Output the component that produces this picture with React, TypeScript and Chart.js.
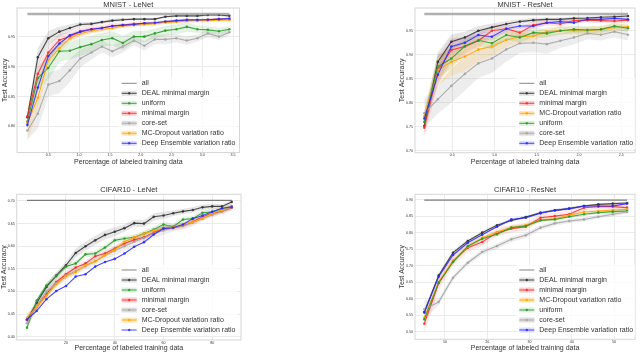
import React, { useEffect, useRef } from "react";
import { Chart, registerables } from "chart.js";

Chart.register(...registerables);

const FONT = '"Liberation Sans", Arial, Helvetica, sans-serif';
const TEXT = "#333333";

// ---------------- MNIST - LeNet ----------------
const mnistLenetX = [0.16, 0.33, 0.5, 0.68, 0.85, 1.02, 1.2, 1.37, 1.54, 1.71, 1.89, 2.06, 2.23, 2.4, 2.58, 2.75, 2.92, 3.09, 3.27, 3.44];
const mnistLenetAll = 0.9888;
const mnistLenetDeal = [0.815, 0.916, 0.948, 0.959, 0.965, 0.971, 0.972, 0.975, 0.9775, 0.979, 0.98, 0.98, 0.98, 0.984, 0.9855, 0.9855, 0.9855, 0.987, 0.987, 0.9855];
const mnistLenetUniform = [0.808, 0.881, 0.898, 0.926, 0.927, 0.933, 0.938, 0.945, 0.948, 0.94, 0.9506, 0.9506, 0.956, 0.9607, 0.963, 0.967, 0.963, 0.962, 0.9596, 0.963];
const mnistLenetMinMargin = [0.817, 0.888, 0.924, 0.945, 0.951, 0.959, 0.963, 0.965, 0.9685, 0.97, 0.972, 0.973, 0.9736, 0.975, 0.977, 0.978, 0.978, 0.979, 0.98, 0.98];
const mnistLenetCoreset = [0.793, 0.821, 0.87, 0.876, 0.894, 0.914, 0.924, 0.934, 0.926, 0.934, 0.944, 0.9354, 0.946, 0.946, 0.948, 0.944, 0.948, 0.956, 0.9506, 0.958];
const mnistLenetMC = [0.805, 0.848, 0.911, 0.931, 0.948, 0.956, 0.96, 0.963, 0.9646, 0.9685, 0.97, 0.971, 0.9725, 0.9747, 0.9753, 0.977, 0.9775, 0.9775, 0.978, 0.9787];
const mnistLenetDE = [0.802, 0.865, 0.918, 0.939, 0.953, 0.959, 0.963, 0.965, 0.9685, 0.97, 0.971, 0.973, 0.974, 0.976, 0.9775, 0.9787, 0.9787, 0.979, 0.98, 0.981];
const mnistLenetDealSd = [0.006, 0.015, 0.012, 0.008, 0.006, 0.004, 0.003, 0.003, 0.003, 0.003, 0.002, 0.002, 0.002, 0.002, 0.002, 0.002, 0.002, 0.002, 0.002, 0.002];
const mnistLenetUniformSd = [0.01, 0.02, 0.02, 0.018, 0.015, 0.015, 0.014, 0.012, 0.012, 0.012, 0.01, 0.01, 0.008, 0.008, 0.008, 0.008, 0.006, 0.006, 0.006, 0.005];
const mnistLenetMinMarginSd = [0.01, 0.015, 0.012, 0.01, 0.008, 0.007, 0.006, 0.005, 0.005, 0.004, 0.004, 0.003, 0.003, 0.003, 0.003, 0.003, 0.002, 0.002, 0.002, 0.002];
const mnistLenetCoresetSd = [0.015, 0.025, 0.02, 0.02, 0.02, 0.015, 0.012, 0.01, 0.01, 0.01, 0.008, 0.008, 0.008, 0.008, 0.007, 0.007, 0.006, 0.006, 0.006, 0.005];
const mnistLenetMCSd = [0.03, 0.025, 0.012, 0.008, 0.006, 0.005, 0.004, 0.004, 0.003, 0.003, 0.003, 0.003, 0.003, 0.003, 0.003, 0.003, 0.003, 0.003, 0.003, 0.003];
const mnistLenetDESd = [0.006, 0.01, 0.006, 0.004, 0.003, 0.003, 0.003, 0.002, 0.002, 0.002, 0.002, 0.002, 0.002, 0.002, 0.002, 0.002, 0.002, 0.002, 0.002, 0.002];
const mnistLenetXTicks = [0.5, 1.0, 1.5, 2.0, 2.5, 3.0, 3.5];
const mnistLenetYTicks = [0.8, 0.85, 0.9, 0.95];

// ---------------- MNIST - ResNet ----------------
const mnistResnetX = [0.17, 0.33, 0.49, 0.65, 0.81, 0.97, 1.14, 1.3, 1.46, 1.62, 1.78, 1.94, 2.1, 2.26, 2.42, 2.58];
const mnistResnetAll = 0.9847;
const mnistResnetDeal = [0.752, 0.885, 0.927, 0.936, 0.95, 0.957, 0.964, 0.969, 0.972, 0.9736, 0.9736, 0.9757, 0.9764, 0.978, 0.979, 0.9805];
const mnistResnetMinMargin = [0.748, 0.867, 0.91, 0.917, 0.929, 0.95, 0.954, 0.946, 0.962, 0.9667, 0.964, 0.971, 0.972, 0.971, 0.97, 0.972];
const mnistResnetMC = [0.772, 0.868, 0.885, 0.896, 0.911, 0.917, 0.9306, 0.9375, 0.939, 0.948, 0.95, 0.95, 0.95, 0.9528, 0.957, 0.9583];
const mnistResnetUniform = [0.76, 0.875, 0.892, 0.918, 0.93, 0.924, 0.941, 0.936, 0.946, 0.9444, 0.95, 0.9528, 0.9514, 0.9528, 0.9597, 0.955];
const mnistResnetCoreset = [0.778, 0.807, 0.835, 0.86, 0.882, 0.892, 0.911, 0.9236, 0.925, 0.922, 0.929, 0.936, 0.9444, 0.9417, 0.948, 0.9417];
const mnistResnetDE = [0.767, 0.858, 0.917, 0.925, 0.941, 0.9375, 0.954, 0.9597, 0.9597, 0.9667, 0.969, 0.9667, 0.974, 0.9736, 0.9757, 0.9736];
const mnistResnetDealSd = [0.02, 0.02, 0.015, 0.012, 0.01, 0.008, 0.006, 0.005, 0.005, 0.004, 0.004, 0.004, 0.003, 0.003, 0.003, 0.003];
const mnistResnetMinMarginSd = [0.02, 0.03, 0.025, 0.02, 0.015, 0.012, 0.01, 0.01, 0.008, 0.006, 0.006, 0.005, 0.005, 0.005, 0.005, 0.005];
const mnistResnetMCSd = [0.02, 0.03, 0.03, 0.03, 0.025, 0.02, 0.015, 0.012, 0.01, 0.01, 0.008, 0.008, 0.008, 0.008, 0.007, 0.007];
const mnistResnetUniformSd = [0.02, 0.025, 0.02, 0.015, 0.012, 0.012, 0.01, 0.01, 0.01, 0.008, 0.008, 0.008, 0.008, 0.007, 0.007, 0.007];
const mnistResnetCoresetSd = [0.03, 0.03, 0.035, 0.035, 0.03, 0.03, 0.025, 0.02, 0.02, 0.02, 0.015, 0.015, 0.012, 0.012, 0.012, 0.012];
const mnistResnetDESd = [0.015, 0.02, 0.015, 0.012, 0.01, 0.008, 0.006, 0.005, 0.005, 0.004, 0.004, 0.004, 0.004, 0.004, 0.004, 0.004];
const mnistResnetXTicks = [0.5, 1.0, 1.5, 2.0, 2.5];
const mnistResnetYTicks = [0.7, 0.75, 0.8, 0.85, 0.9, 0.95];

// ---------------- CIFAR10 - LeNet ----------------
const cifarLenetX = [4, 8, 12, 16, 20, 24, 28, 32, 36, 40, 44, 48, 52, 56, 60, 64, 68, 72, 76, 80, 84, 88];
const cifarLenetAll = 0.7015;
const cifarLenetDeal = [0.437, 0.475, 0.51, 0.535, 0.558, 0.585, 0.6, 0.613, 0.625, 0.632, 0.64, 0.651, 0.65, 0.665, 0.668, 0.673, 0.677, 0.68, 0.686, 0.688, 0.688, 0.698];
const cifarLenetUniform = [0.42, 0.48, 0.513, 0.534, 0.555, 0.562, 0.582, 0.584, 0.597, 0.613, 0.617, 0.62, 0.628, 0.637, 0.648, 0.643, 0.659, 0.661, 0.674, 0.676, 0.683, 0.686];
const cifarLenetMinMargin = [0.437, 0.466, 0.494, 0.521, 0.538, 0.553, 0.562, 0.578, 0.584, 0.595, 0.606, 0.614, 0.62, 0.63, 0.64, 0.641, 0.645, 0.654, 0.665, 0.673, 0.677, 0.685];
const cifarLenetCoreset = [0.43, 0.468, 0.5, 0.518, 0.535, 0.545, 0.556, 0.567, 0.58, 0.59, 0.6, 0.61, 0.618, 0.628, 0.635, 0.641, 0.645, 0.652, 0.662, 0.669, 0.677, 0.686];
const cifarLenetMC = [0.442, 0.466, 0.491, 0.516, 0.534, 0.543, 0.558, 0.567, 0.58, 0.592, 0.61, 0.62, 0.628, 0.635, 0.639, 0.642, 0.648, 0.654, 0.661, 0.673, 0.68, 0.689];
const cifarLenetDE = [0.438, 0.457, 0.483, 0.501, 0.512, 0.533, 0.538, 0.555, 0.565, 0.572, 0.584, 0.599, 0.609, 0.626, 0.639, 0.641, 0.648, 0.661, 0.668, 0.676, 0.684, 0.687];
const cifarLenetDealSd = [0.008, 0.008, 0.008, 0.008, 0.008, 0.01, 0.01, 0.01, 0.01, 0.01, 0.008, 0.008, 0.008, 0.008, 0.008, 0.006, 0.006, 0.006, 0.006, 0.006, 0.005, 0.004];
const cifarLenetCoresetSd = [0.01, 0.01, 0.008, 0.008, 0.008, 0.008, 0.008, 0.008, 0.01, 0.01, 0.01, 0.01, 0.01, 0.01, 0.01, 0.008, 0.008, 0.008, 0.006, 0.006, 0.006, 0.006];
const cifarLenetMinMarginSd = [0.008, 0.008, 0.008, 0.008, 0.008, 0.006, 0.006, 0.006, 0.006, 0.006, 0.006, 0.006, 0.006, 0.006, 0.006, 0.006, 0.006, 0.006, 0.006, 0.006, 0.006, 0.006];
const cifarLenetMCSd = [0.01, 0.01, 0.008, 0.006, 0.006, 0.005, 0.005, 0.005, 0.005, 0.005, 0.005, 0.005, 0.005, 0.005, 0.005, 0.005, 0.005, 0.005, 0.005, 0.005, 0.005, 0.005];
const cifarLenetUniformSd = [0.008, 0.006, 0.006, 0.006, 0.006, 0.006, 0.006, 0.006, 0.006, 0.006, 0.006, 0.006, 0.006, 0.006, 0.006, 0.006, 0.006, 0.006, 0.006, 0.006, 0.006, 0.006];
const cifarLenetXTicks = [20, 40, 60, 80];
const cifarLenetYTicks = [0.4, 0.45, 0.5, 0.55, 0.6, 0.65, 0.7];

// ---------------- CIFAR10 - ResNet ----------------
const cifarResnetX = [5.1, 8.5, 11.9, 15.4, 18.8, 22.3, 25.7, 29.1, 32.6, 36.0, 39.4, 42.9, 46.3, 49.7, 53.1];
const cifarResnetAll = 0.8995;
const cifarResnetDeal = [0.56, 0.671, 0.74, 0.7754, 0.8008, 0.823, 0.838, 0.848, 0.8615, 0.8686, 0.8737, 0.8818, 0.8868, 0.8889, 0.8909];
const cifarResnetMinMargin = [0.524, 0.647, 0.715, 0.755, 0.7724, 0.8008, 0.813, 0.819, 0.846, 0.851, 0.8565, 0.8767, 0.88, 0.88, 0.8767];
const cifarResnetMC = [0.5425, 0.651, 0.7147, 0.7582, 0.7856, 0.8028, 0.816, 0.823, 0.839, 0.843, 0.8534, 0.8636, 0.8666, 0.8696, 0.8716];
const cifarResnetUniform = [0.5375, 0.649, 0.7116, 0.76, 0.7825, 0.7957, 0.816, 0.821, 0.838, 0.841, 0.849, 0.8565, 0.8615, 0.8646, 0.8666];
const cifarResnetCoreset = [0.568, 0.59, 0.664, 0.7096, 0.742, 0.76, 0.7805, 0.7926, 0.816, 0.829, 0.836, 0.841, 0.849, 0.8565, 0.8636];
const cifarResnetDE = [0.558, 0.667, 0.733, 0.77, 0.7947, 0.819, 0.841, 0.846, 0.8595, 0.8686, 0.8737, 0.8818, 0.8818, 0.8818, 0.8889];
const cifarResnetDealSd = [0.008, 0.008, 0.006, 0.005, 0.005, 0.005, 0.005, 0.004, 0.004, 0.004, 0.004, 0.003, 0.003, 0.003, 0.003];
const cifarResnetMinMarginSd = [0.025, 0.02, 0.015, 0.012, 0.012, 0.012, 0.012, 0.012, 0.01, 0.01, 0.01, 0.008, 0.008, 0.008, 0.008];
const cifarResnetMCSd = [0.01, 0.008, 0.008, 0.007, 0.006, 0.006, 0.006, 0.006, 0.005, 0.005, 0.005, 0.005, 0.004, 0.004, 0.004];
const cifarResnetUniformSd = [0.01, 0.008, 0.006, 0.006, 0.005, 0.005, 0.005, 0.005, 0.004, 0.004, 0.004, 0.004, 0.004, 0.004, 0.004];
const cifarResnetCoresetSd = [0.03, 0.01, 0.008, 0.008, 0.008, 0.008, 0.008, 0.008, 0.007, 0.007, 0.006, 0.006, 0.006, 0.006, 0.006];
const cifarResnetDESd = [0.008, 0.006, 0.005, 0.005, 0.004, 0.004, 0.004, 0.004, 0.004, 0.004, 0.004, 0.004, 0.004, 0.004, 0.004];
const cifarResnetXTicks = [10, 20, 30, 40, 50];
const cifarResnetYTicks = [0.5, 0.55, 0.6, 0.65, 0.7, 0.75, 0.8, 0.85, 0.9];

// ---------------- styles ----------------
type Style = { label: string; line: string; band: string; legendBand: string };
const STYLE: Record<string, Style> = {
  all: { label: "all", line: "rgba(120,120,120,0.8)", band: "", legendBand: "" },
  deal: { label: "DEAL minimal margin", line: "rgba(50,50,50,0.88)", band: "rgba(90,90,90,0.15)", legendBand: "rgba(90,90,90,0.18)" },
  uniform: { label: "uniform", line: "rgba(40,155,40,0.88)", band: "rgba(40,155,40,0.13)", legendBand: "rgba(40,155,40,0.15)" },
  minm: { label: "minimal margin", line: "rgba(245,45,45,0.88)", band: "rgba(245,60,60,0.13)", legendBand: "rgba(245,60,60,0.25)" },
  coreset: { label: "core-set", line: "rgba(165,165,165,0.9)", band: "rgba(150,150,150,0.17)", legendBand: "rgba(150,150,150,0.3)" },
  mc: { label: "MC-Dropout variation ratio", line: "rgba(255,165,0,0.9)", band: "rgba(255,165,0,0.15)", legendBand: "rgba(255,165,0,0.28)" },
  de: { label: "Deep Ensemble variation ratio", line: "rgba(40,40,255,0.85)", band: "rgba(40,40,255,0.1)", legendBand: "rgba(40,40,255,0.15)" },
};

type Series = { key: string; ys: number[]; sd?: number[] };
type PanelSpec = {
  title: string;
  xs: number[];
  all: number;
  series: Series[];
  legend: string[];
  xTicks: number[];
  xDigits: number;
  yTicks: number[];
  xMin: number; xMax: number; yMin: number; yMax: number;
  box: { left: number; top: number; width: number; height: number };
  pad: { left: number; right: number; top: number; bottom: number };
  yAxisW: number; xAxisH: number;
  titleY: number; legendX: number; legendY: number;
  allWidth: number; allColor: string;
};

const PANELS: PanelSpec[] = [
  {
    title: "MNIST - LeNet",
    xs: mnistLenetX, all: mnistLenetAll,
    series: [
      { key: "deal", ys: mnistLenetDeal, sd: mnistLenetDealSd },
      { key: "uniform", ys: mnistLenetUniform, sd: mnistLenetUniformSd },
      { key: "minm", ys: mnistLenetMinMargin, sd: mnistLenetMinMarginSd },
      { key: "coreset", ys: mnistLenetCoreset, sd: mnistLenetCoresetSd },
      { key: "mc", ys: mnistLenetMC, sd: mnistLenetMCSd },
      { key: "de", ys: mnistLenetDE, sd: mnistLenetDESd },
    ],
    legend: ["all", "deal", "uniform", "minm", "coreset", "mc", "de"],
    xTicks: mnistLenetXTicks, xDigits: 1, yTicks: mnistLenetYTicks,
    xMin: -0.008, xMax: 3.604, yMin: 0.756, yMax: 0.9987,
    box: { left: 0, top: 0, width: 320, height: 176 },
    pad: { left: 0.5, right: 80.5, top: 8, bottom: 10 },
    yAxisW: 16.5, xAxisH: 13.5,
    titleY: 4.5, legendX: 121.7, legendY: 83.3,
    allWidth: 2.5, allColor: "rgba(150,150,150,0.75)",
  },
  {
    title: "MNIST - ResNet",
    xs: mnistResnetX, all: mnistResnetAll,
    series: [
      { key: "deal", ys: mnistResnetDeal, sd: mnistResnetDealSd },
      { key: "minm", ys: mnistResnetMinMargin, sd: mnistResnetMinMarginSd },
      { key: "mc", ys: mnistResnetMC, sd: mnistResnetMCSd },
      { key: "uniform", ys: mnistResnetUniform, sd: mnistResnetUniformSd },
      { key: "coreset", ys: mnistResnetCoreset, sd: mnistResnetCoresetSd },
      { key: "de", ys: mnistResnetDE, sd: mnistResnetDESd },
    ],
    legend: ["all", "deal", "minm", "mc", "uniform", "coreset", "de"],
    xTicks: mnistResnetXTicks, xDigits: 1, yTicks: mnistResnetYTicks,
    xMin: 0.06, xMax: 2.663, yMin: 0.6958, yMax: 0.9973,
    box: { left: 320, top: 0, width: 320, height: 176 },
    pad: { left: 77.5, right: 5, top: 8, bottom: 10.1 },
    yAxisW: 17.5, xAxisH: 13.2,
    titleY: 4.5, legendX: 199.3, legendY: 83.3,
    allWidth: 2.5, allColor: "rgba(150,150,150,0.75)",
  },
  {
    title: "CIFAR10 - LeNet",
    xs: cifarLenetX, all: cifarLenetAll,
    series: [
      { key: "deal", ys: cifarLenetDeal, sd: cifarLenetDealSd },
      { key: "uniform", ys: cifarLenetUniform, sd: cifarLenetUniformSd },
      { key: "minm", ys: cifarLenetMinMargin, sd: cifarLenetMinMarginSd },
      { key: "coreset", ys: cifarLenetCoreset, sd: cifarLenetCoresetSd },
      { key: "mc", ys: cifarLenetMC, sd: cifarLenetMCSd },
      { key: "de", ys: cifarLenetDE },
    ],
    legend: ["all", "deal", "uniform", "minm", "coreset", "mc", "de"],
    xTicks: cifarLenetXTicks, xDigits: 0, yTicks: cifarLenetYTicks,
    xMin: -0.22, xMax: 91.8, yMin: 0.3927, yMax: 0.7148,
    box: { left: 0, top: 176, width: 320, height: 176 },
    pad: { left: 0, right: 79, top: 18.3, bottom: 0.1 },
    yAxisW: 16.7, xAxisH: 11.9,
    titleY: 14, legendX: 121.7, legendY: 94,
    allWidth: 1.2, allColor: "rgba(110,110,110,0.9)",
  },
  {
    title: "CIFAR10 - ResNet",
    xs: cifarResnetX, all: cifarResnetAll,
    series: [
      { key: "deal", ys: cifarResnetDeal, sd: cifarResnetDealSd },
      { key: "minm", ys: cifarResnetMinMargin, sd: cifarResnetMinMarginSd },
      { key: "mc", ys: cifarResnetMC, sd: cifarResnetMCSd },
      { key: "uniform", ys: cifarResnetUniform, sd: cifarResnetUniformSd },
      { key: "coreset", ys: cifarResnetCoreset, sd: cifarResnetCoresetSd },
      { key: "de", ys: cifarResnetDE, sd: cifarResnetDESd },
    ],
    legend: ["all", "deal", "minm", "mc", "uniform", "coreset", "de"],
    xTicks: cifarResnetXTicks, xDigits: 0, yTicks: cifarResnetYTicks,
    xMin: 2.9, xMax: 54.97, yMin: 0.4769, yMax: 0.9173,
    box: { left: 320, top: 176, width: 320, height: 176 },
    pad: { left: 77.5, right: 5, top: 18.3, bottom: 0.1 },
    yAxisW: 17.5, xAxisH: 12.6,
    titleY: 14, legendX: 199.3, legendY: 94,
    allWidth: 1.2, allColor: "rgba(110,110,110,0.9)",
  },
];

function Panel({ p }: { p: PanelSpec }) {
  const ref = useRef<HTMLCanvasElement>(null);
  useEffect(() => {
    if (!ref.current) return;
    const datasets: any[] = [];
    datasets.push({
      label: "all",
      data: [{ x: p.xs[0], y: p.all }, { x: p.xs[p.xs.length - 1], y: p.all }],
      borderColor: p.allColor, borderWidth: p.allWidth, pointRadius: 0, fill: false, order: 0,
    });
    for (const s of p.series) {
      const st = STYLE[s.key];
      const li = p.legend.indexOf(s.key);
      datasets.push({
        label: st.label,
        data: p.xs.map((x, i) => ({ x, y: s.ys[i] })),
        borderColor: st.line, backgroundColor: st.line, borderWidth: 1.1,
        pointRadius: 1.3, pointBorderWidth: 0, pointBackgroundColor: st.line,
        fill: false, order: 1 + (p.legend.length - li) / 10,
      });
    }
    for (const s of p.series) {
      if (!s.sd) continue;
      const st = STYLE[s.key];
      datasets.push({
        label: st.label + " upper",
        data: p.xs.map((x, i) => ({ x, y: s.ys[i] + s.sd![i] })),
        borderWidth: 0, borderColor: "rgba(0,0,0,0)", pointRadius: 0, fill: false, order: 5,
      });
      datasets.push({
        label: st.label + " lower",
        data: p.xs.map((x, i) => ({ x, y: s.ys[i] - s.sd![i] })),
        borderWidth: 0, borderColor: "rgba(0,0,0,0)", pointRadius: 0, fill: "-1",
        backgroundColor: st.band, order: 5,
      });
    }

    const deco = {
      id: "deco",
      beforeDatasetsDraw(chart: any) {
        const { ctx, chartArea: a } = chart;
        ctx.save();
        ctx.strokeStyle = "#d6d6d6";
        ctx.lineWidth = 1;
        ctx.strokeRect(a.left, a.top, a.right - a.left, a.bottom - a.top);
        ctx.restore();
      },
      afterDraw(chart: any) {
        const { ctx, chartArea: a } = chart;
        ctx.save();
        ctx.font = `7.5px ${FONT}`;
        ctx.fillStyle = TEXT;
        ctx.textAlign = "center";
        ctx.textBaseline = "middle";
        ctx.fillText(p.title, (a.left + a.right) / 2, p.titleY);
        ctx.font = `7px ${FONT}`;
        const rowH = 10;
        const x0 = p.legendX;
        const y0 = p.legendY;
        const labels = p.legend.map((k) => STYLE[k].label);
        const maxW = Math.max(...labels.map((l) => ctx.measureText(l).width));
        ctx.fillStyle = "rgba(255,255,255,0.8)";
        ctx.fillRect(x0 - 3, y0 - 5.5, 20 + maxW + 5, rowH * (labels.length - 1) + 11);
        p.legend.forEach((k, i) => {
          const y = y0 + i * rowH;
          const st = STYLE[k];
          const ser = p.series.find((s) => s.key === k);
          if (ser && ser.sd && st.legendBand) {
            ctx.fillStyle = st.legendBand;
            ctx.fillRect(x0, y - 2.5, 15, 5);
          }
          ctx.strokeStyle = k === "all" ? "rgba(120,120,120,0.9)" : st.line;
          ctx.lineWidth = 1;
          ctx.beginPath();
          ctx.moveTo(x0, y);
          ctx.lineTo(x0 + 15, y);
          ctx.stroke();
          if (k !== "all") {
            ctx.fillStyle = st.line;
            ctx.beginPath();
            ctx.arc(x0 + 7.5, y, 1.2, 0, Math.PI * 2);
            ctx.fill();
          }
          ctx.fillStyle = TEXT;
          ctx.textAlign = "left";
          ctx.textBaseline = "middle";
          ctx.fillText(st.label, x0 + 20, y);
        });
        ctx.restore();
      },
    };

    const tickFont = { size: 3.6, family: FONT };
    const titleFont = { size: 7, family: FONT };
    const chart = new Chart(ref.current, {
      type: "line",
      data: { datasets },
      options: {
        animation: false,
        responsive: false,
        devicePixelRatio: 1,
        events: [],
        layout: { padding: p.pad },
        elements: { line: { tension: 0 } },
        plugins: {
          legend: { display: false },
          title: { display: false },
          tooltip: { enabled: false },
        },
        scales: {
          x: {
            type: "linear",
            min: p.xMin,
            max: p.xMax,
            afterBuildTicks: (s: any) => { s.ticks = p.xTicks.map((v) => ({ value: v })); },
            afterFit: (s: any) => { s.height = p.xAxisH; },
            ticks: {
              font: tickFont, color: TEXT, padding: 0.5, maxRotation: 0, autoSkip: false,
              callback: (v: any) => Number(v).toFixed(p.xDigits),
            },
            grid: { color: "#ebebeb", lineWidth: 1, drawTicks: false },
            border: { display: false },
            title: { display: true, text: "Percentage of labeled training data", font: titleFont, color: TEXT, padding: 0 },
          },
          y: {
            type: "linear",
            min: p.yMin,
            max: p.yMax,
            afterBuildTicks: (s: any) => { s.ticks = p.yTicks.map((v) => ({ value: v })); },
            afterFit: (s: any) => { s.width = p.yAxisW; },
            ticks: {
              font: tickFont, color: TEXT, padding: 2, autoSkip: false,
              callback: (v: any) => Number(v).toFixed(2),
            },
            grid: { color: "#ebebeb", lineWidth: 1, drawTicks: false },
            border: { display: false },
            title: { display: true, text: "Test Accuracy", font: titleFont, color: TEXT, padding: 0 },
          },
        },
      } as any,
      plugins: [deco],
    });
    return () => chart.destroy();
  }, [p]);

  return (
    <canvas
      ref={ref}
      width={p.box.width}
      height={p.box.height}
      style={{ position: "absolute", left: p.box.left, top: p.box.top, width: p.box.width, height: p.box.height }}
    />
  );
}

export default function App() {
  return (
    <div style={{ position: "fixed", left: 0, top: 0, width: 640, height: 352, background: "#ffffff", overflow: "hidden" }}>
      {PANELS.map((p) => (
        <Panel key={p.title} p={p} />
      ))}
    </div>
  );
}
